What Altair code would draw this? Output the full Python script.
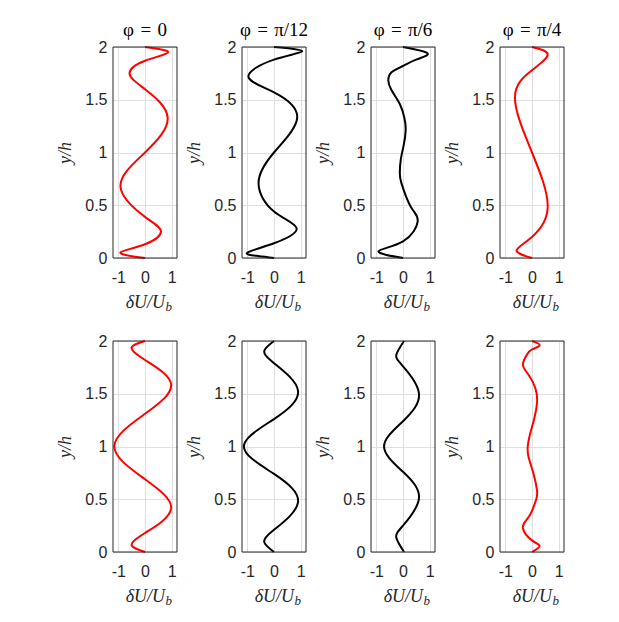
import altair as alt
import pandas as pd

TITLES = ["φ\u2004=\u20040", "φ\u2004=\u2004π/12", "φ\u2004=\u2004π/6", "φ\u2004=\u2004π/4"]
COLORS = ["#ff0000", "#000000", "#000000", "#ff0000",
          "#ff0000", "#000000", "#000000", "#ff0000"]
X_TICKS = [-1, 0, 1]
Y_TICKS = [0, 0.5, 1, 1.5, 2]

# top row
p1_y = [0, 0.02, 0.057, 0.13, 0.25, 0.39, 0.68, 1.0, 1.33, 1.6, 1.75, 1.87, 1.95, 2.0]
p1_u = [0, -0.55, -0.9, 0, 0.6, 0, -0.92, 0, 0.85, 0, -0.58, 0, 0.87, 0]

p2_y = [0, 0.02, 0.05, 0.14, 0.28, 0.44, 0.71, 1.0, 1.33, 1.57, 1.72, 1.88, 1.96, 2.0]
p2_u = [0, -0.6, -1.0, 0, 0.85, 0, -0.58, 0, 0.87, 0, -0.96, 0, 1.06, 0]

p3_y = [0, 0.063, 0.157, 0.345, 0.455, 0.58, 0.71, 0.80, 0.94, 1.06, 1.21, 1.33, 1.46, 1.59, 1.68, 1.76, 1.82, 1.88, 1.94, 2.0]
p3_u = [0, -0.92, 0, 0.55, 0.37, 0.12, -0.06, -0.12, -0.08, 0.02, 0.1, 0.05, -0.12, -0.43, -0.55, -0.43, 0, 0.49, 0.92, 0]

p4_y = [0, 0.07, 0.2, 0.49, 1.0, 1.52, 1.78, 1.93, 2.0]
p4_u = [0, -0.58, 0, 0.59, 0, -0.64, 0, 0.59, 0]

# bottom row
p5_y = [0, 0.063, 0.18, 0.41, 0.69, 1.0, 1.31, 1.59, 1.82, 1.94, 2.0]
p5_u = [0, -0.5, 0, 0.98, 0, -1.15, 0, 0.98, 0, -0.5, 0]

p6_y = [0, 0.09, 0.21, 0.47, 0.74, 1.0, 1.26, 1.53, 1.79, 1.91, 2.0]
p6_u = [0, -0.36, 0, 0.9, 0, -1.13, 0, 0.9, 0, -0.36, 0]

p7_y = [0, 0.135, 0.25, 0.51, 0.76, 1.0, 1.24, 1.5, 1.76, 1.87, 2.0]
p7_u = [0.04, -0.25, 0, 0.6, 0, -0.71, 0, 0.6, 0, -0.25, 0.04]

p8_y = [0, 0.057, 0.11, 0.225, 0.31, 0.39, 0.5, 0.58, 0.74, 0.9, 1.0, 1.1, 1.27, 1.42, 1.55, 1.68, 1.775, 1.87, 1.92, 1.96, 2.0]
p8_u = [0, 0.29, 0, -0.34, -0.19, 0, 0.16, 0.19, 0.06, -0.13, -0.16, -0.09, 0.09, 0.19, 0.13, -0.13, -0.34, -0.19, 0, 0.29, 0]

SERIES = [(p1_y, p1_u), (p2_y, p2_u), (p3_y, p3_u), (p4_y, p4_u),
          (p5_y, p5_u), (p6_y, p6_u), (p7_y, p7_u), (p8_y, p8_u)]

W, H = 64, 211
TXT = "#262626"
ONE = pd.DataFrame({"k": [0]})


def panel(k):
    ys, us = SERIES[k]
    df = pd.DataFrame({"y": ys, "u": us, "i": list(range(len(ys)))})
    line = alt.Chart(df).mark_line(
        color=COLORS[k], strokeWidth=2, interpolate="natural"
    ).encode(
        x=alt.X("u:Q", scale=alt.Scale(domain=[-1.2, 1.2], nice=False, zero=False),
                axis=alt.Axis(values=X_TICKS, title=None,
                              labelExpr="replace(datum.label, '\u2212', '-')",
                              labelPadding=11)),
        y=alt.Y("y:Q", scale=alt.Scale(domain=[0, 2], nice=False),
                axis=alt.Axis(values=Y_TICKS, format="~g", title="y/h",
                              labelPadding=6, titlePadding=10)),
        order="i:Q",
    )
    frame = alt.Chart(ONE).mark_rect(
        fillOpacity=0, stroke="#262626", strokeWidth=1
    ).encode(x=alt.value(0), x2=alt.value(W), y=alt.value(0), y2=alt.value(H))
    t1 = alt.Chart(pd.DataFrame({"t": ["δU/U"]})).mark_text(
        font="Liberation Serif", fontStyle="italic", fontSize=18, color=TXT,
        align="right", baseline="alphabetic"
    ).encode(text="t:N", x=alt.value(52), y=alt.value(H + 50))
    t2 = alt.Chart(pd.DataFrame({"t": ["b"]})).mark_text(
        font="Liberation Serif", fontStyle="italic", fontSize=13, color=TXT,
        align="left", baseline="alphabetic"
    ).encode(text="t:N", x=alt.value(52.5), y=alt.value(H + 53))
    ch = alt.layer(line, frame, t1, t2).properties(width=W, height=H)
    if k < 4:
        ch = ch.properties(title=alt.TitleParams(
            TITLES[k], font="Liberation Serif", fontSize=19, fontWeight="normal",
            color="#000000", offset=-1))
    return ch


chart = alt.concat(
    *[panel(k) for k in range(8)],
    columns=4,
    spacing={"row": 83, "column": 65},
    bounds="flush",
).properties(
    padding={"left": 48, "top": 13, "right": 5, "bottom": 5}
).configure_view(
    stroke=None
).configure_axis(
    domain=False, ticks=False, grid=True, gridColor="#dfdfdf", gridWidth=1,
    labelFont="Liberation Sans", labelFontSize=16, labelColor=TXT,
    titleFont="Liberation Serif", titleFontStyle="italic", titleFontSize=18,
    titleFontWeight="normal", titleColor=TXT,
)

chart.save("out.html", embed_options={"renderer": "svg", "actions": False})
